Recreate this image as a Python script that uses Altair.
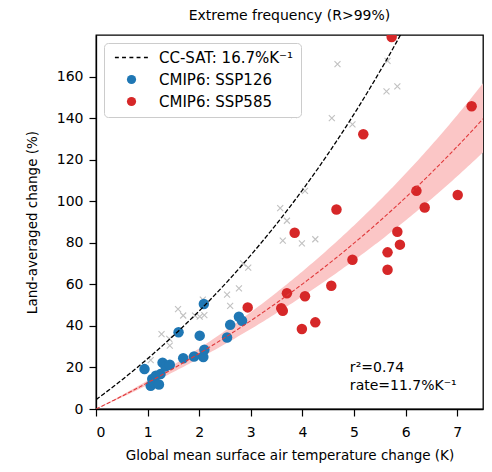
import altair as alt
import numpy as np
import pandas as pd

# ---- data ----
ssp126_x = [0.94, 1.06, 1.09, 1.12, 1.16, 1.22, 1.25, 1.29, 1.35, 1.43, 1.60, 1.69, 1.90, 2.01, 2.08, 2.10, 2.09, 2.54, 2.60, 2.77, 2.83]
ssp126_y = [19.2, 11.2, 14.4, 13.0, 16.0, 11.8, 16.8, 22.3, 20.5, 21.3, 36.9, 24.4, 25.3, 35.3, 25.0, 28.5, 50.5, 34.4, 40.5, 44.4, 42.5]

ssp585_x = [2.94, 3.59, 3.62, 3.70, 3.85, 3.99, 4.05, 4.25, 4.56, 4.66, 4.97, 5.18, 5.65, 5.65, 5.73, 5.84, 5.89, 6.21, 6.37, 7.01, 7.28]
ssp585_y = [48.9, 48.5, 47.3, 55.7, 84.8, 38.5, 54.3, 41.7, 59.3, 96.0, 71.8, 132.2, 75.4, 67.0, 179.0, 85.3, 79.1, 105.0, 97.0, 103.0, 145.7]

obs_x = [1.06, 1.27, 1.42, 1.43, 1.59, 1.69, 1.92, 2.01, 2.10, 2.07, 2.54, 2.60, 2.77, 2.85, 2.95, 3.57, 3.70, 3.62, 3.99, 4.25, 4.05, 3.84, 4.57, 4.68, 4.97, 5.63, 5.65, 5.84]
obs_y = [23.5, 36.0, 33.7, 30.5, 48.1, 45.0, 44.9, 44.5, 45.2, 52.6, 55.0, 49.6, 58.1, 70.1, 68.0, 96.7, 90.6, 81.0, 79.7, 81.7, 105.0, 141.5, 140.0, 166.0, 137.0, 152.9, 167.6, 155.3]

legend_labels = ["CC-SAT: 16.7%K\u207b\u00b9", "CMIP6: SSP126", "CMIP6: SSP585"]
x_ticks = [0, 1, 2, 3, 4, 5, 6, 7]
y_ticks = [0, 20, 40, 60, 80, 100, 120, 140, 160]

# curve parameters (scaling rates from the labels)
cc_rate = 0.167
cc_scale = 118.0
cc_offset = 113.5
fit_rate = 0.117
fit_rate_lo = 0.107
fit_rate_hi = 0.127
fit_scale = 108.0

annot_x = [4.92, 4.92]
annot_y = [19.6, 11.0]
annot_text = ["r\u00b2=0.74", "rate=11.7%K\u207b\u00b9"]

FONT = "DejaVu Sans"
BLUE = "#1f77b4"
RED = "#d62728"

# ---- tables ----
T = np.linspace(0, 7.5, 151)
curves = pd.DataFrame({
    "T": T,
    "cc": cc_scale * (1 + cc_rate) ** T - cc_offset,
    "fit": fit_scale * ((1 + fit_rate) ** T - 1),
    "lo": fit_scale * ((1 + fit_rate_lo) ** T - 1),
    "hi": fit_scale * ((1 + fit_rate_hi) ** T - 1),
})

pts = pd.DataFrame({
    "x": ssp126_x + ssp585_x,
    "y": ssp126_y + ssp585_y,
    "series": [legend_labels[1]] * len(ssp126_x) + [legend_labels[2]] * len(ssp585_x),
})
obs = pd.DataFrame({"x": obs_x, "y": obs_y})
annot = pd.DataFrame({"x": annot_x, "y": annot_y, "t": annot_text})

xs = alt.Scale(domain=[0, 7.5], nice=False, zero=False)
ys = alt.Scale(domain=[0, 180], nice=False, zero=False)

xax = alt.Axis(values=x_ticks, title="Global mean surface air temperature change (K)", grid=False,
               format="d")
yax = alt.Axis(values=y_ticks, title="Land-averaged change (%)", grid=False, format="d")

# dashed-line legend symbol made of filled dashes
dash_path = ("M-3.6,-0.17H-2.75V0.17H-3.6Z M-2.05,-0.17H-1.2V0.17H-2.05Z "
             "M-0.45,-0.17H0.4V0.17H-0.45Z M1.1,-0.17H1.95V0.17H1.1Z M2.7,-0.17H3.55V0.17H2.7Z")

leg = alt.Legend(title=None, orient="top-left", offset=8, fillColor="white", strokeColor="#cccccc",
                 cornerRadius=4, padding=7, labelFontSize=15, labelFont=FONT, labelColor="black",
                 symbolSize=85, symbolStrokeWidth=0, symbolOffset=13, labelOffset=20, rowPadding=6,
                 symbolOpacity=1)

band = alt.Chart(curves).mark_area(color="#fbc6c6", opacity=1, clip=True).encode(
    x=alt.X("T:Q", scale=xs, axis=xax), y=alt.Y("lo:Q", scale=ys, axis=yax), y2="hi:Q")

cross = alt.Chart(obs).mark_point(shape="M-1,-1L1,1M-1,1L1,-1", filled=False, color="#a8a8a8",
                                  size=36, strokeWidth=1.1, clip=True).encode(
    x=alt.X("x:Q", scale=xs), y=alt.Y("y:Q", scale=ys))

points = alt.Chart(pts).mark_point(filled=True, size=110, opacity=1, clip=True).encode(
    x=alt.X("x:Q", scale=xs), y=alt.Y("y:Q", scale=ys),
    color=alt.Color("series:N", scale=alt.Scale(domain=legend_labels, range=["black", BLUE, RED]), legend=leg),
    shape=alt.Shape("series:N", scale=alt.Scale(domain=legend_labels, range=[dash_path, "circle", "circle"]), legend=leg),
)

cc_line = alt.Chart(curves).mark_line(color="black", strokeWidth=1.3, strokeDash=[4.5, 2], clip=True).encode(
    x=alt.X("T:Q", scale=xs), y=alt.Y("cc:Q", scale=ys))
fit_line = alt.Chart(curves).mark_line(color="#e0393b", strokeWidth=1.1, strokeDash=[4, 2], clip=True).encode(
    x=alt.X("T:Q", scale=xs), y=alt.Y("fit:Q", scale=ys))

text = alt.Chart(annot).mark_text(align="left", baseline="middle", fontSize=14, font=FONT, color="black").encode(
    x=alt.X("x:Q", scale=xs), y=alt.Y("y:Q", scale=ys), text="t:N")

chart = alt.layer(band, cross, points, cc_line, fit_line, text).properties(
    width=387, height=374,
    autosize=alt.AutoSizeParams(type="none"),
    padding={"left": 88, "top": 27, "right": 1, "bottom": 54},
    title=alt.TitleParams("Extreme frequency (R>99%)", fontSize=14, fontWeight="normal", font=FONT,
                          color="black", anchor="middle", offset=12),
).configure_view(stroke="black", strokeWidth=1.3).configure_axis(
    domainColor="black", domainWidth=1.3, tickColor="black", tickSize=7, tickWidth=1.2,
    labelFont=FONT, labelFontSize=14, labelColor="black",
    titleFont=FONT, titleFontSize=13.5, titleFontWeight="normal", titleColor="black",
).configure_axisX(labelPadding=9, titlePadding=9).configure_axisY(labelPadding=6, titlePadding=17)

chart.save("out.html", embed_options={"renderer": "svg", "actions": False})
